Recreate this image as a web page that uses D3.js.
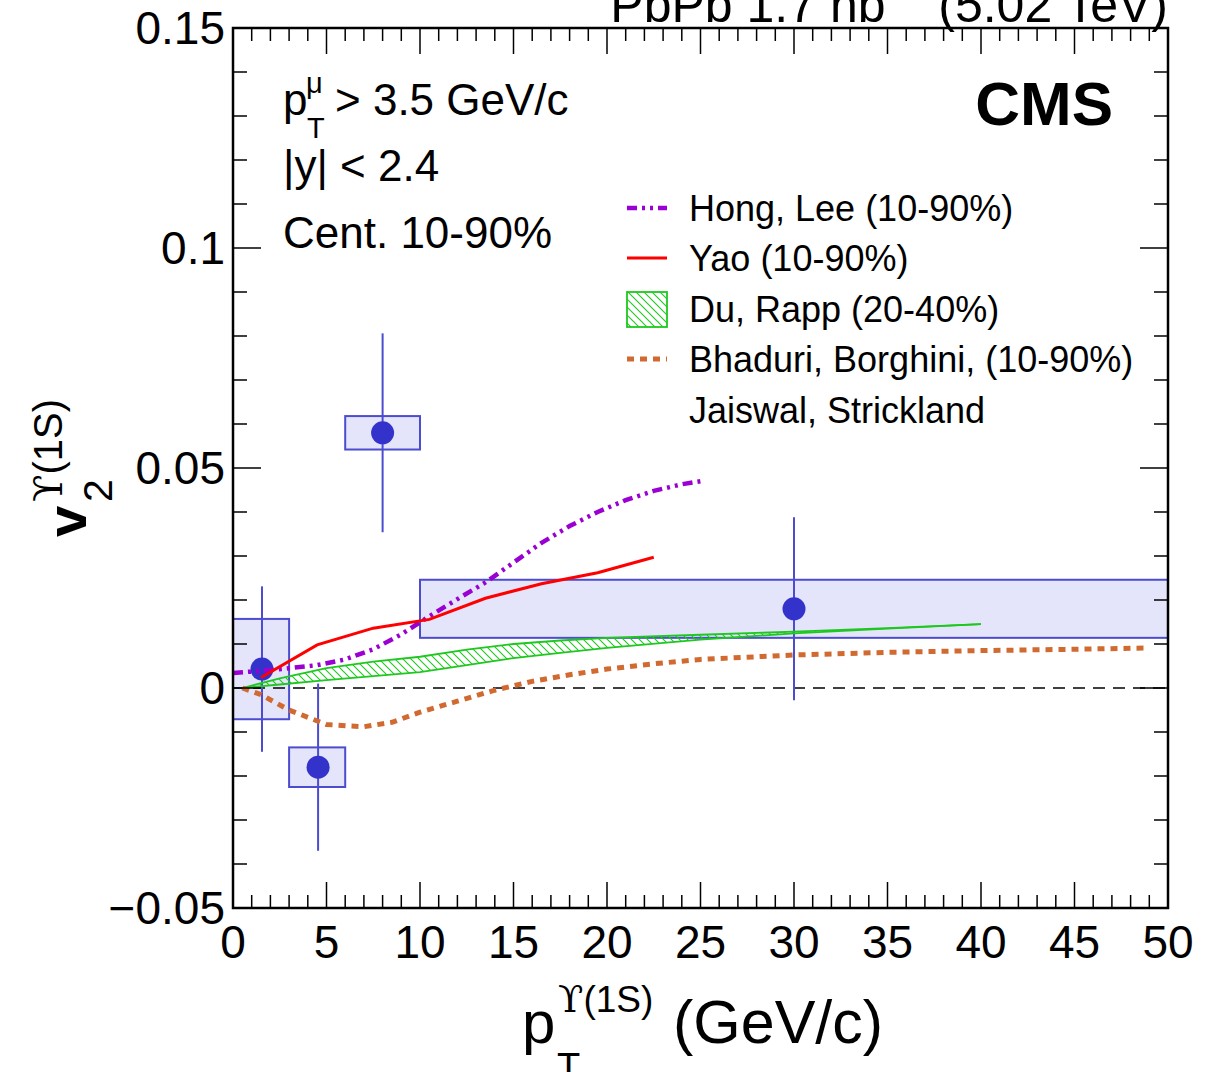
<!DOCTYPE html>
<html><head><meta charset="utf-8">
<script src="https://cdn.jsdelivr.net/npm/d3@7"></script>
<style>
html,body{margin:0;padding:0;background:#fff;}
svg{display:block;font-family:"Liberation Sans",Arial,Helvetica,sans-serif;}
</style></head>
<body><svg id="c" width="1216" height="1072"></svg>
<script>
// ---- data ----
const xTicks = [0,5,10,15,20,25,30,35,40,45,50];
const yTicks = [-0.05,0,0.05,0.1,0.15];
const yTickLabels = ["\u22120.05","0","0.05","0.1","0.15"];

const pointPt = [1.55, 4.55, 8.0, 30.0];
const pointV2 = [0.0043, -0.018, 0.058, 0.018];
const statErr = [0.0188, 0.019, 0.0226, 0.0208];
const binLo = [0, 3, 6, 10];
const binHi = [3, 6, 10, 50];
const systErr = [0.0114, 0.0045, 0.0038, 0.0066];

const hongLeePt = [0,1.5,3,4.5,6,7.5,9,10.5,12,13.5,15,16.5,18,19.5,21,22.5,24,25];
const hongLeeV2 = [0.0034,0.0039,0.0045,0.0052,0.0065,0.0088,0.0122,0.0163,0.0202,0.0240,0.0285,0.0330,0.0368,0.0400,0.0427,0.0448,0.0463,0.0470];

const yaoPt = [1.5,4.5,7.5,10.5,13.5,16.5,19.5,22.5];
const yaoV2 = [0.0024,0.0098,0.0136,0.0156,0.0204,0.0237,0.0262,0.0297];

const duRappPt = [0.5,2.5,5,7.5,10,12.5,15,17.5,20,25,30,35,40];
const duRappHigh = [0,0.0022,0.0045,0.0060,0.0071,0.0087,0.0100,0.0108,0.0114,0.0121,0.0128,0.0136,0.0145];
const duRappLow = [0,0.0008,0.0018,0.0027,0.0036,0.0052,0.0068,0.0080,0.0091,0.0110,0.0124,0.0135,0.0145];

const bhaduriPt = [0.5,1.5,3,5,7,8.5,10,12,14,16,18,20,22.5,25,30,35,40,45,49];
const bhaduriV2 = [0,-0.0015,-0.005,-0.0083,-0.0088,-0.0078,-0.0055,-0.003,-0.0005,0.0015,0.003,0.0043,0.0055,0.0065,0.0075,0.0081,0.0085,0.0088,0.0091];

const legendLabels = ["Hong, Lee (10-90%)","Yao (10-90%)","Du, Rapp (20-40%)","Bhaduri, Borghini, (10-90%)","Jaiswal, Strickland"];

// ---- layout ----
const L = 233, R = 1168, T = 28, B = 908;
const svg = d3.select("#c");
const x = d3.scaleLinear().domain([0,50]).range([L,R]);
const y = d3.scaleLinear().domain([-0.05,0.15]).range([B,T]);
const serif = "'DejaVu Serif','Liberation Serif',serif";

const C = {purple:"#9a00d2", red:"#ff0000", green:"#1ec81e", orange:"#d06a30", blue:"#3333cc", boxFill:"#e4e4fa", boxStroke:"#4c4cd0"};

const defs = svg.append("defs");
const pat = defs.append("pattern").attr("id","hatch").attr("patternUnits","userSpaceOnUse")
  .attr("width",8).attr("height",8);
pat.append("path").attr("d","M0,0 L8,8 M-2,6 L2,10 M6,-2 L10,2")
  .attr("stroke",C.green).attr("stroke-width",1.1).attr("fill","none");
defs.append("clipPath").attr("id","clip").append("rect").attr("x",L).attr("y",T).attr("width",R-L).attr("height",B-T);

const plot = svg.append("g").attr("clip-path","url(#clip)");

// syst boxes
plot.selectAll("rect.syst").data(pointPt.map((d,i)=>i)).enter().append("rect")
  .attr("x",i=>x(binLo[i])).attr("width",i=>x(binHi[i])-x(binLo[i]))
  .attr("y",i=>y(pointV2[i]+systErr[i])).attr("height",i=>y(pointV2[i]-systErr[i])-y(pointV2[i]+systErr[i]))
  .attr("fill",C.boxFill).attr("stroke",C.boxStroke).attr("stroke-width",2);

// zero line
plot.append("line").attr("x1",x(0)).attr("x2",x(50)).attr("y1",y(0)).attr("y2",y(0))
  .attr("stroke","#000").attr("stroke-width",1.5).attr("stroke-dasharray","12 8");

// stat error bars + markers
plot.selectAll("line.stat").data(pointPt.map((d,i)=>i)).enter().append("line")
  .attr("x1",i=>x(pointPt[i])).attr("x2",i=>x(pointPt[i]))
  .attr("y1",i=>y(pointV2[i]+statErr[i])).attr("y2",i=>y(pointV2[i]-statErr[i]))
  .attr("stroke",C.boxStroke).attr("stroke-width",2);
plot.selectAll("circle.pt").data(pointPt.map((d,i)=>i)).enter().append("circle")
  .attr("cx",i=>x(pointPt[i])).attr("cy",i=>y(pointV2[i])).attr("r",11.5).attr("fill",C.blue);

// Du Rapp band
const area = d3.area().x(i=>x(duRappPt[i])).y0(i=>y(duRappLow[i])).y1(i=>y(duRappHigh[i]));
const idx = duRappPt.map((d,i)=>i);
plot.append("path").attr("d",area(idx)).attr("fill","url(#hatch)").attr("stroke","none");
const lineHi = d3.line().x(i=>x(duRappPt[i])).y(i=>y(duRappHigh[i]));
const lineLo = d3.line().x(i=>x(duRappPt[i])).y(i=>y(duRappLow[i]));
plot.append("path").attr("d",lineHi(idx)).attr("fill","none").attr("stroke",C.green).attr("stroke-width",1.8);
plot.append("path").attr("d",lineLo(idx)).attr("fill","none").attr("stroke",C.green).attr("stroke-width",1.8);

// Bhaduri
const lineXY = (px,py)=>d3.line().x(i=>x(px[i])).y(i=>y(py[i]))(px.map((d,i)=>i));
plot.append("path").attr("d",lineXY(bhaduriPt,bhaduriV2)).attr("fill","none")
  .attr("stroke",C.orange).attr("stroke-width",5).attr("stroke-dasharray","7 6");
// Hong Lee
plot.append("path").attr("d",lineXY(hongLeePt,hongLeeV2)).attr("fill","none")
  .attr("stroke",C.purple).attr("stroke-width",4.5).attr("stroke-dasharray","10 5 3 5 3 5");
// Yao
plot.append("path").attr("d",lineXY(yaoPt,yaoV2)).attr("fill","none")
  .attr("stroke",C.red).attr("stroke-width",3);

// ---- frame & ticks ----
const ax = svg.append("g").attr("stroke","#000");
const xMinor = d3.range(0,51,1), yMinor = d3.range(-50,151,10).map(v=>v/1000);
xMinor.forEach(v=>{
  const len = (v%5===0)?26:13;
  ax.append("line").attr("x1",x(v)).attr("x2",x(v)).attr("y1",B).attr("y2",B-len).attr("stroke-width",1.5);
  ax.append("line").attr("x1",x(v)).attr("x2",x(v)).attr("y1",T).attr("y2",T+len).attr("stroke-width",1.5);
});
yMinor.forEach(v=>{
  const major = Math.abs(Math.round(v*1000)%50)===0;
  const len = major?28:14;
  ax.append("line").attr("x1",L).attr("x2",L+len).attr("y1",y(v)).attr("y2",y(v)).attr("stroke-width",1.5);
  ax.append("line").attr("x1",R).attr("x2",R-len).attr("y1",y(v)).attr("y2",y(v)).attr("stroke-width",1.5);
});
svg.append("rect").attr("x",L).attr("y",T).attr("width",R-L).attr("height",B-T)
  .attr("fill","none").attr("stroke","#000").attr("stroke-width",2.5);

// tick labels
svg.selectAll("text.xt").data(xTicks).enter().append("text")
  .attr("x",d=>x(d)).attr("y",958).attr("text-anchor","middle").attr("font-size",46).text(d=>d);
svg.selectAll("text.yt").data(yTicks).enter().append("text")
  .attr("x",225).attr("y",d=>y(d)+16).attr("text-anchor","end").attr("font-size",46)
  .text((d,i)=>yTickLabels[i]);

// axis titles
const xt = svg.append("g");
xt.append("text").attr("x",522).attr("y",1043).attr("font-size",60).text("p");
xt.append("text").attr("x",557).attr("y",1080).attr("font-size",38).text("T");
const sup = xt.append("text").attr("x",558).attr("y",1012).attr("font-size",37);
sup.append("tspan").attr("font-family",serif).text("\u03D2");
sup.append("tspan").text("(1S)");
xt.append("text").attr("x",673).attr("y",1043).attr("font-size",61).text("(GeV/c)");

svg.append("text").attr("transform","translate(86,537) rotate(-90)").attr("font-size",56).attr("font-weight","bold").text("v");
svg.append("text").attr("transform","translate(112,502) rotate(-90)").attr("font-size",41).text("2");
const ys = svg.append("text").attr("transform","translate(62,502) rotate(-90)").attr("font-size",40);
ys.append("tspan").attr("font-family",serif).text("\u03D2");
ys.append("tspan").text("(1S)");

// top title
const tt = svg.append("text").attr("x",1168).attr("y",22).attr("text-anchor","end").attr("font-size",50);
tt.append("tspan").text("PbPb 1.7 nb");
tt.append("tspan").attr("dy",-30).attr("font-size",34).text("\u22121");
tt.append("tspan").attr("dy",30).text(" (5.02 TeV)");

// CMS
svg.append("text").attr("x",1113).attr("y",125).attr("text-anchor","end").attr("font-size",62).attr("font-weight","bold").text("CMS");

// annotations
const a1 = svg.append("g").attr("font-size",44);
a1.append("text").attr("x",283).attr("y",115).text("p");
a1.append("text").attr("x",306).attr("y",93).attr("font-size",29).text("\u03BC");
a1.append("text").attr("x",307).attr("y",138).attr("font-size",29).text("T");
a1.append("text").attr("x",335).attr("y",115).text("> 3.5 GeV/c");
a1.append("text").attr("x",283).attr("y",181).text("|y| < 2.4");
a1.append("text").attr("x",283).attr("y",248).text("Cent. 10-90%");

// legend
const legY = [208,258,309,359,410];
const lg = svg.append("g");
legendLabels.forEach((t,i)=>{
  lg.append("text").attr("x",689).attr("y",legY[i]+12.5).attr("font-size",36).text(t);
});
lg.append("line").attr("x1",627).attr("x2",667).attr("y1",legY[0]).attr("y2",legY[0])
  .attr("stroke",C.purple).attr("stroke-width",4.5).attr("stroke-dasharray","10 5 3 5 3 5");
lg.append("line").attr("x1",627).attr("x2",667).attr("y1",legY[1]).attr("y2",legY[1])
  .attr("stroke",C.red).attr("stroke-width",3);
lg.append("rect").attr("x",627).attr("y",legY[2]-17).attr("width",40).attr("height",35)
  .attr("fill","url(#hatch)").attr("stroke",C.green).attr("stroke-width",1.8);
lg.append("line").attr("x1",627).attr("x2",667).attr("y1",legY[3]).attr("y2",legY[3])
  .attr("stroke",C.orange).attr("stroke-width",5).attr("stroke-dasharray","7 6");
</script></body></html>
